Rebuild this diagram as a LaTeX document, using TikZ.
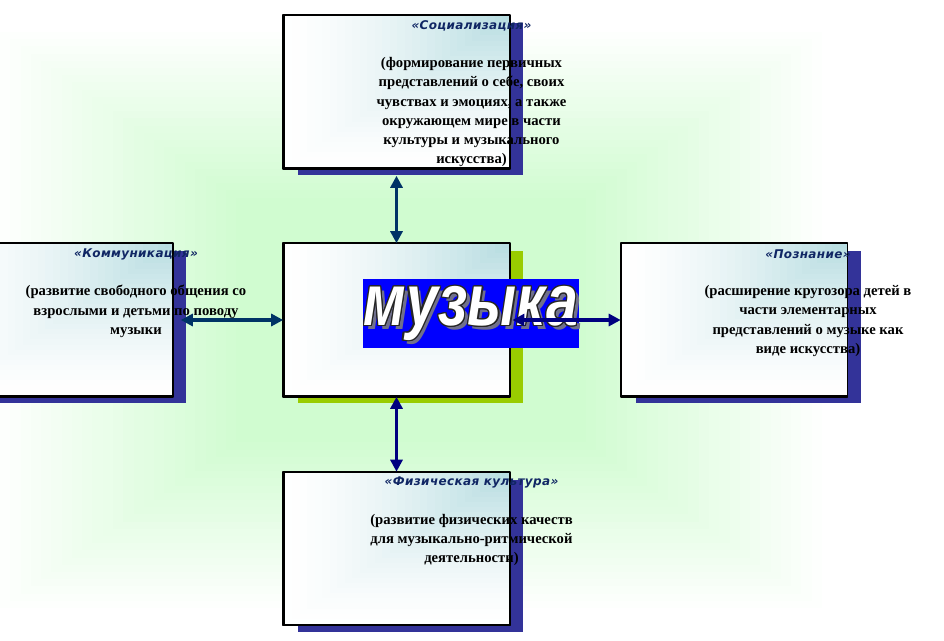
\documentclass[tikz,border=0pt]{standalone}
\usepackage{fontspec}
\usepackage{graphicx}
\setmainfont{Liberation Serif}
\newfontfamily\ttlfont[LetterSpace=3]{DejaVu Sans}
\newfontfamily\artfont{Liberation Sans}
\usetikzlibrary{arrows.meta,shadows}
\definecolor{bgreen}{RGB}{208,252,208}
\definecolor{boxteal}{RGB}{184,221,225}
\definecolor{shblue}{RGB}{51,51,153}
\definecolor{shgreen}{RGB}{153,204,0}
\definecolor{ttlblue}{RGB}{16,38,100}
\definecolor{arrnavy}{RGB}{0,0,128}
\definecolor{arrdark}{RGB}{0,51,102}
\definecolor{banblue}{RGB}{0,0,255}
\definecolor{artgray}{RGB}{112,112,140}
\newcommand\artword{\scalebox{1}[1.27]{музыка}}
\tikzset{
  topicbox/.style={draw=black, line width=1.2pt, fill=white, inner sep=0pt,
    minimum width=168.75pt, minimum height=114pt,
    general shadow={fill=#1, shadow xshift=10.5pt, shadow yshift=-5.25pt}},
  topicbox/.default=shblue,
  ttl/.style={font=\ttlfont\bfseries\itshape\fontsize{9}{11}\selectfont, text=ttlblue, inner sep=0pt},
  body/.style={font=\bfseries\fontsize{11}{14.4}\selectfont, align=center, inner sep=0pt, anchor=north},
  link/.style={line width=2.7pt, {Triangle[width=9pt,length=9pt]}-{Triangle[width=9pt,length=9pt]}},
  wordart/.style={font=\artfont\bfseries\itshape\fontsize{43}{43}\selectfont, inner sep=0pt}
}
\begin{document}
\begin{tikzpicture}[x=0.75pt, y=-0.75pt, line join=round]
\useasboundingbox (0,0) rectangle (944,640);
\clip (0,0) rectangle (944,640);
\foreach \i in {1,...,40}{
  \pgfmathsetmacro\sz{1-(\i-1)/40}
  \pgfmathsetmacro\mix{min(100,100*\i/24)}
  \fill[bgreen!\mix!white] (411-411*\sz,320-288*\sz) rectangle (411+411*\sz,320+288*\sz);
}

\node[topicbox] (soc) at (396.5,92) {};
\node[topicbox] (kom) at (59.5,320) {};
\node[topicbox=shgreen] (muz) at (396.5,320) {};
\node[topicbox] (poz) at (734,320) {};
\node[topicbox] (fiz) at (396.5,548.5) {};
\foreach \n in {soc,kom,muz,poz,fiz}{
  \foreach \i in {1,...,30}{
    \pgfmathsetmacro\sz{1-(\i-1)/30}
    \pgfmathsetmacro\mix{100*(\i/30)^1.5}
    \fill[boxteal!\mix!white] (\n.north east) rectangle ([shift={(-225*\sz,152*\sz)}]\n.north east);
  }
  \draw[line width=1.2pt] (\n.south west) rectangle (\n.north east);
}

\node[fill=banblue, minimum width=162pt, minimum height=51.75pt, inner sep=0pt] (ban) at (471,313.5) {};
\node[wordart, text=artgray] (wash) at ([shift={(3.5,3.5)}]ban.center) {\artword};
\foreach \a in {0,30,...,330}
  \node[wordart, text=black!85] (wa\a) at ([shift={(\a:1.2)}]ban.center) {\artword};
\node[wordart, text=white] (wa) at (ban.center) {\artword};

\draw[link, draw=arrdark, shorten <=5.25pt] (soc.south) -- (muz.north);
\draw[link, draw=arrnavy] (muz.south) -- (fiz.north);
\draw[link, draw=arrdark, shorten <=6pt] (kom.east) -- (muz.west);
\draw[link, draw=arrnavy, shorten <=2pt] (muz.east) -- (poz.west);

\node[ttl] (socT) at ([shift={(75,11)}]soc.north) {«Социализация»};
\node[body] (socB) at ([shift={(75,42)}]soc.north) {(формирование первичных\\представлений о себе, своих\\чувствах и эмоциях, а также\\окружающем мире в части\\культуры и музыкального\\искусства)};
\node[ttl] (komT) at ([shift={(76.5,11)}]kom.north) {«Коммуникация»};
\node[body] (komB) at ([shift={(76.5,42)}]kom.north) {(развитие свободного общения со\\взрослыми и детьми по поводу\\музыки};
\node[ttl] (pozT) at ([shift={(74,11)}]poz.north) {«Познание»};
\node[body] (pozB) at ([shift={(74,42)}]poz.north) {(расширение кругозора детей в\\части элементарных\\представлений о музыке как\\виде искусства)};
\node[ttl] (fizT) at ([shift={(75,11)}]fiz.north) {«Физическая культура»};
\node[body] (fizB) at ([shift={(75,42)}]fiz.north) {(развитие физических качеств\\для музыкально-ритмической\\деятельности)};
\end{tikzpicture}
\end{document}
